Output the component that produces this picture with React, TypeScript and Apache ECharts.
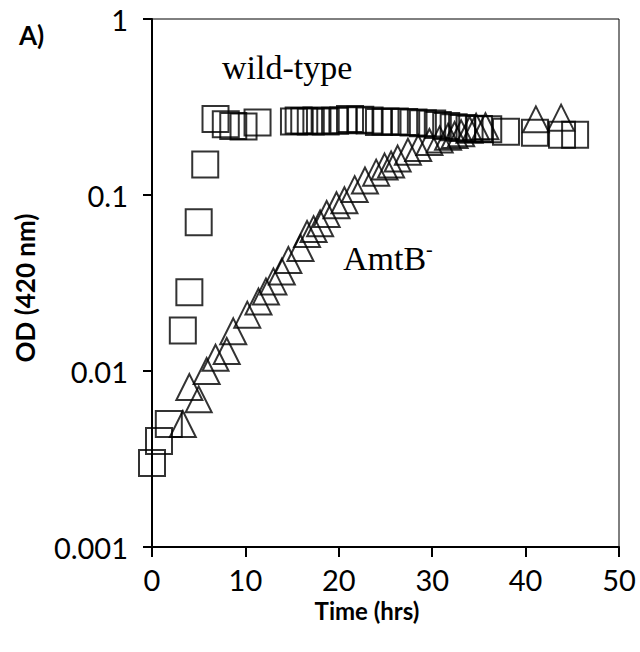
import React, { useEffect, useRef } from "react";
import * as echarts from "echarts";

const wtTime = [0, 0.75, 1.8, 3.3, 4.0, 5.0, 5.7, 6.8, 7.9, 8.7, 9.8, 11.3, 15.2, 15.7, 16.3, 17.0, 17.6, 18.6, 19.6, 20.5, 21.2, 22.3, 23.3, 24.3, 25.0, 26.0, 27.0, 28.0, 29.0, 30.0, 30.6, 31.5, 32.3, 33.2, 34.0, 35.0, 36.0, 37.9, 41.0, 43.9, 45.3];
const wtOD = [0.003, 0.004, 0.005, 0.017, 0.028, 0.07, 0.149, 0.27, 0.252, 0.247, 0.245, 0.258, 0.262, 0.265, 0.263, 0.262, 0.265, 0.262, 0.264, 0.266, 0.27, 0.268, 0.265, 0.26, 0.262, 0.262, 0.26, 0.258, 0.256, 0.255, 0.25, 0.247, 0.243, 0.24, 0.238, 0.237, 0.236, 0.229, 0.226, 0.22, 0.22];

const amtTime = [3.3, 4.0, 5.0, 5.85, 6.8, 8.0, 8.7, 10.2, 11.4, 12.2, 13.0, 13.9, 14.6, 15.9, 16.6, 17.3, 18.0, 18.7, 19.75, 20.6, 21.7, 22.8, 24.0, 24.9, 25.6, 26.3, 27.4, 28.5, 29.7, 30.8, 31.7, 32.4, 33.1, 34.0, 34.7, 35.7, 41.1, 43.8];
const amtOD = [0.005, 0.0081, 0.0069, 0.01, 0.0119, 0.013, 0.0168, 0.0209, 0.0248, 0.0283, 0.0323, 0.0367, 0.0427, 0.05, 0.06, 0.064, 0.069, 0.078, 0.0875, 0.0934, 0.108, 0.121, 0.134, 0.145, 0.149, 0.161, 0.176, 0.185, 0.2, 0.207, 0.214, 0.219, 0.224, 0.235, 0.244, 0.246, 0.269, 0.275];

const xTicks = [0, 10, 20, 30, 40, 50];
const yTickLabels = ["0.001", "0.01", "0.1", "1"];

const sansFont = "Lato, 'Open Sans', sans-serif";
const serifFont = "'Liberation Serif', 'DejaVu Serif', serif";

export default function App() {
  const ref = useRef<HTMLDivElement>(null);
  useEffect(() => {
    const chart = echarts.init(ref.current!, null, { renderer: "svg" });
    const wt = wtTime.map((t, i) => [t, wtOD[i]]);
    const amt = amtTime.map((t, i) => [t, amtOD[i]]);
    chart.setOption({
      animation: false,
      backgroundColor: "#fff",
      grid: {
        left: 152,
        right: 21,
        top: 19,
        bottom: 105,
        show: true,
        borderColor: "#000",
        borderWidth: 1,
      },
      xAxis: {
        type: "value",
        min: xTicks[0],
        max: xTicks[xTicks.length - 1],
        interval: 10,
        axisLine: { show: true, lineStyle: { color: "#000", width: 2 } },
        axisTick: { show: true, length: 10, lineStyle: { color: "#000", width: 2 } },
        splitLine: { show: false },
        axisLabel: {
          color: "#000",
          fontSize: 29,
          lineHeight: 30,
          fontFamily: sansFont,
          margin: 17,
        },
      },
      yAxis: {
        type: "log",
        logBase: 10,
        min: 0.001,
        max: 1,
        axisLine: { show: true, lineStyle: { color: "#000", width: 2 } },
        axisTick: { show: true, length: 9, lineStyle: { color: "#000", width: 2 } },
        splitLine: { show: false },
        axisLabel: {
          color: "#000",
          fontSize: 29,
          fontFamily: sansFont,
          margin: 24,
          formatter: (v: number) => {
            const idx = Math.round(Math.log10(v)) + 3;
            return yTickLabels[idx] ?? "";
          },
        },
      },
      series: [
        {
          type: "scatter",
          name: "wild-type",
          data: wt,
          symbol: "rect",
          symbolSize: 26,
          itemStyle: { color: "none", borderColor: "#000", borderWidth: 2 },
        },
        {
          type: "scatter",
          name: "AmtB-",
          data: amt,
          symbol: "triangle",
          symbolSize: 26,
          itemStyle: { color: "none", borderColor: "#000", borderWidth: 2 },
        },
      ],
      graphic: [
        {
          type: "text",
          x: 19,
          y: 35,
          style: { text: "A)", font: `bold 26px ${sansFont}`, fill: "#000", verticalAlign: "middle" },
        },
        {
          type: "text",
          x: 222,
          y: 67,
          style: { text: "wild-type", font: `34px ${serifFont}`, fill: "#000", verticalAlign: "middle" },
        },
        {
          type: "text",
          x: 343,
          y: 258,
          style: {
            verticalAlign: "middle",
            rich: {
              a: { font: `34px ${serifFont}`, fill: "#000" },
              s: { font: `20px ${serifFont}`, fill: "#000", padding: [0, 0, 18, 0] },
            },
            text: "{a|AmtB}{s|-}",
          },
        },
        {
          type: "text",
          x: 367,
          y: 610,
          style: {
            text: "Time (hrs)",
            font: `bold 24px ${sansFont}`,
            fill: "#000",
            align: "center",
            verticalAlign: "middle",
          },
        },
        {
          type: "text",
          x: 25,
          y: 288,
          rotation: Math.PI / 2,
          style: {
            text: "OD (420 nm)",
            font: `bold 26px ${sansFont}`,
            fill: "#000",
            align: "center",
            verticalAlign: "middle",
          },
        },
      ],
    });
    return () => chart.dispose();
  }, []);
  return <div ref={ref} style={{ width: 640, height: 652, position: "absolute", left: 0, top: 0 }} />;
}
